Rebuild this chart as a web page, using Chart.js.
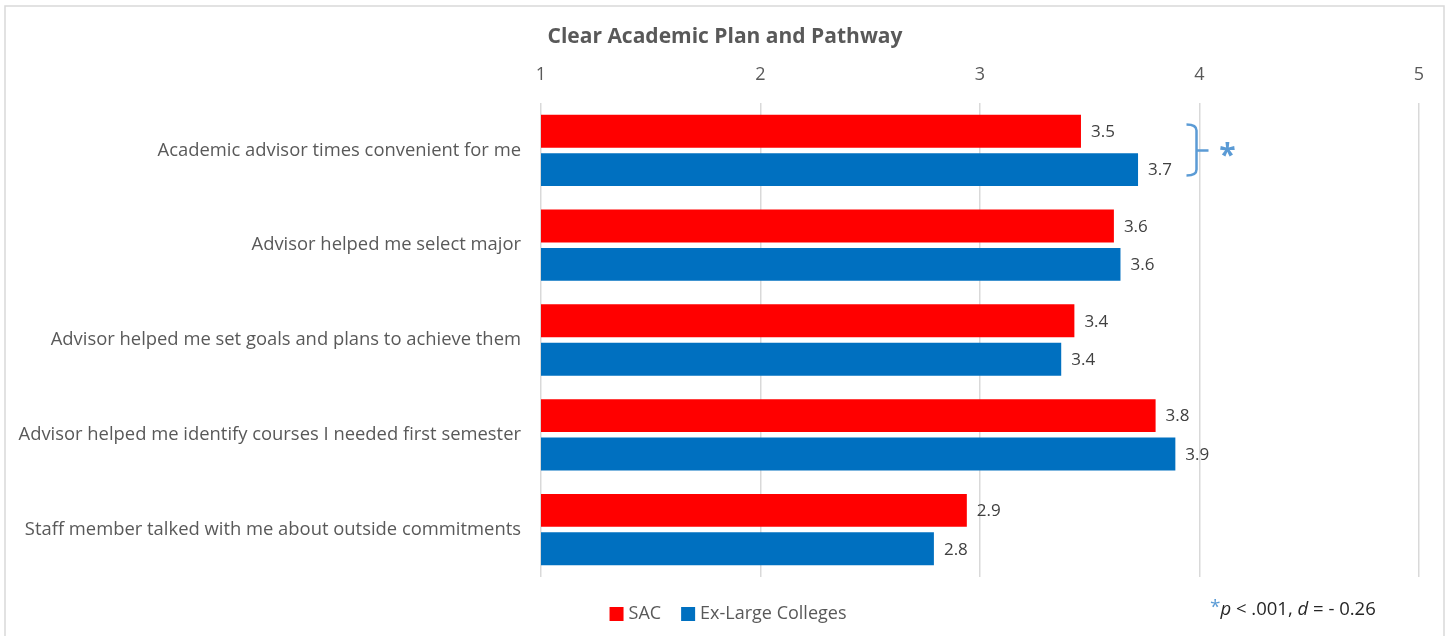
<!DOCTYPE html>
<html>
<head>
<meta charset="utf-8">
<script src="https://cdn.jsdelivr.net/npm/chart.js@4.4.1/dist/chart.umd.min.js"></script>
<style>
  html, body { margin: 0; padding: 0; background: #fff; }
  canvas { display: block; }
</style>
</head>
<body>
<canvas id="chart" width="1450" height="636"></canvas>
<script>
// Data
const chartTitle = 'Clear Academic Plan and Pathway';
const categories = [
  'Academic advisor times convenient for me',
  'Advisor helped me select major',
  'Advisor helped me set goals and plans to achieve them',
  'Advisor helped me identify courses I needed first semester',
  'Staff member talked with me about outside commitments'
];
const sacValues = [3.46, 3.61, 3.43, 3.80, 2.94];
const exLargeValues = [3.72, 3.64, 3.37, 3.89, 2.79];
const tickValues = [1, 2, 3, 4, 5];

const FONT = '"Open Sans", Lato, sans-serif';
const GRAY = '#595959';

// Outer border and title (title is centred on the whole frame, not the plot)
const frame = {
  id: 'frame',
  beforeDraw(chart) {
    const ctx = chart.ctx;
    ctx.save();
    ctx.fillStyle = '#fff';
    ctx.fillRect(0, 0, chart.width, chart.height);
    ctx.strokeStyle = '#d9d9d9';
    ctx.lineWidth = 1.5;
    ctx.strokeRect(5, 6, chart.width - 11, chart.height + 10);
    ctx.fillStyle = GRAY;
    ctx.font = 'bold 21px ' + FONT;
    ctx.textAlign = 'center';
    ctx.textBaseline = 'middle';
    ctx.fillText(chartTitle, chart.width / 2, 37);
    ctx.restore();
  }
};

// Value labels next to bars
const valueLabels = {
  id: 'valueLabels',
  afterDatasetsDraw(chart) {
    const ctx = chart.ctx;
    ctx.save();
    ctx.font = '17px ' + FONT;
    ctx.fillStyle = '#404040';
    ctx.textBaseline = 'middle';
    chart.data.datasets.forEach((ds, i) => {
      chart.getDatasetMeta(i).data.forEach((bar, j) => {
        ctx.fillText(ds.data[j].toFixed(1), bar.x + 10, bar.y + 1);
      });
    });
    ctx.restore();
  }
};

// Significance bracket, legend and footnote
const extras = {
  id: 'extras',
  afterDraw(chart) {
    const ctx = chart.ctx;
    const xs = chart.scales.x, ys = chart.scales.y;
    ctx.save();

    // bracket on first category
    const bx = xs.getPixelForValue(4) - 3;
    const yc = ys.getPixelForValue(0);
    ctx.strokeStyle = '#5b9bd5';
    ctx.lineWidth = 2.5;
    ctx.beginPath();
    ctx.moveTo(bx - 10, yc - 26);
    ctx.quadraticCurveTo(bx, yc - 26, bx, yc - 20);
    ctx.lineTo(bx, yc + 19);
    ctx.quadraticCurveTo(bx, yc + 25, bx - 10, yc + 25);
    ctx.moveTo(bx, yc);
    ctx.lineTo(bx + 12, yc);
    ctx.stroke();
    ctx.fillStyle = '#5b9bd5';
    ctx.font = 'bold 30px ' + FONT;
    ctx.textAlign = 'center';
    ctx.textBaseline = 'middle';
    ctx.fillText('*', bx + 31, yc + 6);

    // legend
    ctx.font = '18px ' + FONT;
    ctx.textAlign = 'left';
    const items = chart.data.datasets.map(d => ({ text: d.label, color: d.backgroundColor }));
    const box = 14, gapText = 5, gapItem = 20;
    let total = 0;
    items.forEach((it, i) => {
      total += box + gapText + ctx.measureText(it.text).width + (i ? gapItem : 0);
    });
    let lx = 728 - total / 2;
    const ly = 614;
    items.forEach(it => {
      ctx.fillStyle = it.color;
      ctx.fillRect(lx, ly - box / 2, box, box);
      lx += box + gapText;
      ctx.fillStyle = GRAY;
      ctx.fillText(it.text, lx, ly);
      lx += ctx.measureText(it.text).width + gapItem;
    });

    // footnote
    const parts = [
      { t: '*', f: '19px ' + FONT, c: '#5b9bd5', dy: -2 },
      { t: 'p', f: 'italic 18.5px ' + FONT, c: '#262626', dy: 0 },
      { t: ' < .001, ', f: '18.5px ' + FONT, c: '#262626', dy: 0 },
      { t: 'd', f: 'italic 18.5px ' + FONT, c: '#262626', dy: 0 },
      { t: ' = - 0.26', f: '18.5px ' + FONT, c: '#262626', dy: 0 }
    ];
    let fx = 1210;
    parts.forEach(p => {
      ctx.font = p.f;
      ctx.fillStyle = p.c;
      ctx.fillText(p.t, fx, 610 + p.dy);
      fx += ctx.measureText(p.t).width;
    });

    ctx.restore();
  }
};

new Chart(document.getElementById('chart'), {
  type: 'bar',
  data: {
    labels: categories,
    datasets: [
      { label: 'SAC', data: sacValues, backgroundColor: '#ff0000' },
      { label: 'Ex-Large Colleges', data: exLargeValues, backgroundColor: '#0070c0' }
    ]
  },
  options: {
    indexAxis: 'y',
    responsive: false,
    animation: false,
    devicePixelRatio: 1,
    categoryPercentage: 0.81,
    barPercentage: 0.857,
    layout: { padding: { top: 49, left: 0, right: 31, bottom: 59 } },
    plugins: {
      legend: { display: false },
      tooltip: { enabled: false },
      title: { display: false }
    },
    scales: {
      x: {
        position: 'top',
        min: 1,
        max: 5,
        afterBuildTicks(scale) {
          scale.ticks = tickValues.map(v => ({ value: v }));
        },
        afterFit(scale) { scale.height = 54; },
        ticks: {
          color: GRAY,
          padding: 17,
          font: { family: FONT, size: 18 }
        },
        grid: { color: '#d9d9d9', lineWidth: 1.5, drawTicks: false },
        border: { display: false }
      },
      y: {
        afterFit(scale) { scale.width = 541; },
        ticks: {
          color: GRAY,
          padding: 20,
          font: { family: FONT, size: 18.4 }
        },
        grid: { display: false, drawTicks: false },
        border: { display: false }
      }
    }
  },
  plugins: [frame, valueLabels, extras]
});
</script>
</body>
</html>
